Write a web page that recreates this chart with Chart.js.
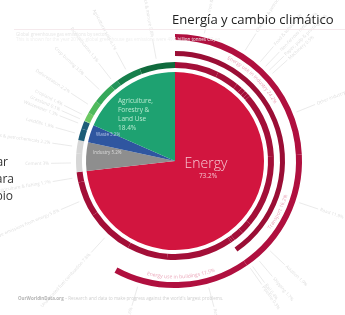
<!DOCTYPE html>
<html>
<head>
<meta charset="utf-8">
<script src="https://cdn.jsdelivr.net/npm/chart.js@4.4.0/dist/chart.umd.min.js"></script>
<style>
  html, body { margin: 0; padding: 0; background: #fff; }
  #wrap { position: relative; width: 345px; height: 315px; overflow: hidden; font-family: 'Open Sans', sans-serif; }
  #chart { position: absolute; left: 0; top: 0; }
  .title { position: absolute; left: 172px; top: 10px; font-size: 13.1px; color: #222; white-space: nowrap; }
  .side { position: absolute; width: 140px; text-align: right; font-size: 12px; color: #333; white-space: nowrap; line-height: 14px; }
  .faint { position: absolute; white-space: nowrap; font-size: 4.5px; color: #d6d6d6; }
  .rule { position: absolute; left: 14px; right: 0; top: 29px; height: 1px; background: #f5eaed; }
</style>
</head>
<body>
<div id="wrap">
  <canvas id="chart" width="345" height="315"></canvas>
  <div class="title">Energía y cambio climático</div>
  <div class="rule"></div>
  <div class="faint" style="left:16px; top:31px; color:#e6e6e6;">Global greenhouse gas emissions by sector</div>
  <div class="faint" style="left:16px; top:36px; color:#efefef;">This is shown for the year 2016 – global greenhouse gas emissions were 49.4 billion tonnes CO₂eq.</div>
  <div class="side" style="left:-132px; top:155px;">Observar</div>
  <div class="side" style="left:-126px; top:172px;">para</div>
  <div class="side" style="left:-127px; top:189px;">cambio</div>
  <div class="faint" style="left:18px; top:295px; color:#b3b3b3;"><b>OurWorldinData.org</b> <span style="color:#d0d0d0">– Research and data to make progress against the world's largest problems.</span></div>
</div>
<script>
// main sectors (inner pie)
const sectors = ['Energy', 'Industry', 'Waste', 'Agriculture, Forestry & Land Use'];
const sectorShares = [73.2, 5.2, 3.2, 18.4];

// sub-sectors (thin ring + leader labels), parent = index into sectors
const subSectors = [
  'Iron & Steel', 'Chemical & petrochemical', 'Food & tobacco', 'Non-ferrous metals',
  'Paper, pulp & printing', 'Machinery', 'Other industry',
  'Road', 'Aviation', 'Shipping', 'Rail', 'Pipeline',
  'Residential buildings', 'Commercial buildings',
  'Unallocated fuel combustion', 'Fugitive emissions from energy', 'Energy in agriculture & fishing',
  'Cement', 'Chemicals & petrochemicals',
  'Landfills', 'Wastewater',
  'Grassland', 'Cropland', 'Deforestation', 'Crop burning', 'Rice cultivation', 'Agricultural soils', 'Livestock & manure'
];
const subShares = [
  7.2, 3.6, 1.0, 0.7, 0.6, 0.5, 10.6,
  11.9, 1.9, 1.7, 0.4, 0.3,
  10.9, 6.6,
  7.8, 5.8, 1.7,
  3.0, 2.2,
  1.9, 1.3,
  0.1, 1.4, 2.2, 3.5, 1.3, 4.1, 5.8
];
const subParent = [
  0, 0, 0, 0, 0, 0, 0,
  0, 0, 0, 0, 0,
  0, 0,
  0, 0, 0,
  1, 1,
  2, 2,
  3, 3, 3, 3, 3, 3, 3
];

// energy groups on the outer arc
const groupNames = ['Energy use in industry', 'Transport', 'Energy use in buildings', ''];
const groupShares = [24.2, 16.2, 17.5, 42.1];
const middleShares = [40.4, 59.6];

const clear = 'rgba(0,0,0,0)';
const sectorColors = ['#d2153f', '#8e8e8e', '#2f56a0', '#1ea271'];
const greens = ['#8fd57a', '#6cc862', '#4fba5c', '#36a85a', '#23945a', '#177f4c', '#0f6a3c'];
let g = 0;
const ringColors = subParent.map(p => {
    if (p === 0) return '#a30f38';
    if (p === 1) return '#d6d6d6';
    if (p === 2) return '#1d5d78';
    return greens[g++];
});

const labelPlugin = {
    id: 'sectorLabels',
    afterDatasetsDraw(chart) {
        const ctx = chart.ctx;
        const pie = chart.getDatasetMeta(6).data;
        const cx = pie[0].x, cy = pie[0].y;
        ctx.save();

        // leader lines + tiny labels for every sub-sector
        const ring = chart.getDatasetMeta(4).data;
        const outerEnd = -Math.PI / 2 + 2 * Math.PI * (groupShares[0] + groupShares[1] + groupShares[2]) / 100;
        ring.forEach((arc, i) => {
            const a = (arc.startAngle + arc.endAngle) / 2;
            const r1 = a < outerEnd ? 131 : 104;
            const r2 = r1 + 20;
            ctx.strokeStyle = '#e4e4e4';
            ctx.lineWidth = 0.8;
            ctx.beginPath();
            ctx.moveTo(cx + r1 * Math.cos(a), cy + r1 * Math.sin(a));
            ctx.lineTo(cx + r2 * Math.cos(a), cy + r2 * Math.sin(a));
            ctx.stroke();
            ctx.save();
            ctx.translate(cx + (r2 + 2) * Math.cos(a), cy + (r2 + 2) * Math.sin(a));
            const left = Math.cos(a) < 0;
            ctx.rotate(left ? a + Math.PI : a);
            ctx.font = '4.5px "Open Sans"';
            ctx.fillStyle = '#dedede';
            ctx.textAlign = left ? 'right' : 'left';
            ctx.textBaseline = 'middle';
            ctx.fillText(subSectors[i] + ' ' + subShares[i] + '%', 0, 0);
            ctx.restore();
        });

        // curved names of the energy groups between the rings
        const groups = chart.getDatasetMeta(0).data;
        ctx.font = '5px "Open Sans"';
        ctx.fillStyle = '#eaa6b9';
        ctx.textAlign = 'center';
        ctx.textBaseline = 'middle';
        groups.forEach((arc, i) => {
            if (!groupNames[i]) return;
            const mid = (arc.startAngle + arc.endAngle) / 2;
            arcText(ctx, groupNames[i] + ' ' + groupShares[i] + '%', cx, cy, 116, mid);
        });

        // labels inside the pie
        ctx.textAlign = 'center';
        ctx.textBaseline = 'alphabetic';
        ctx.fillStyle = '#f6c6d2';
        ctx.font = '300 14px "Open Sans"';
        ctx.fillText(sectors[0], cx + 31, cy + 7);
        ctx.font = '6.5px "Open Sans"';
        ctx.fillText(sectorShares[0] + '%', cx + 33, cy + 17);

        ctx.textAlign = 'left';
        ctx.fillStyle = '#b8ead0';
        ctx.font = '6.5px "Open Sans"';
        ['Agriculture,', 'Forestry &', 'Land Use', sectorShares[3] + '%'].forEach((t, k) => {
            ctx.fillText(t, cx - 57, cy - 58 + k * 9);
        });

        ctx.fillStyle = '#b9c8ea';
        ctx.font = '4.5px "Open Sans"';
        ctx.fillText(sectors[2] + ' ' + sectorShares[2] + '%', cx - 79, cy - 25);
        ctx.fillStyle = '#dddddd';
        ctx.fillText(sectors[1] + ' ' + sectorShares[1] + '%', cx - 82, cy - 7);
        ctx.restore();
    }
};

function arcText(ctx, text, cx, cy, r, mid) {
    const w = ctx.measureText(text).width;
    const bottom = Math.sin(mid) > 0;
    const dir = bottom ? -1 : 1;
    let a = mid - dir * (w / r) / 2;
    for (const ch of text) {
        const cw = ctx.measureText(ch).width;
        const ca = a + dir * (cw / r) / 2;
        ctx.save();
        ctx.translate(cx + r * Math.cos(ca), cy + r * Math.sin(ca));
        ctx.rotate(ca + (bottom ? -Math.PI / 2 : Math.PI / 2));
        ctx.fillText(ch, 0, 0);
        ctx.restore();
        a += dir * cw / r;
    }
}

document.fonts.load('14px "Open Sans"').then(() => {
    new Chart(document.getElementById('chart').getContext('2d'), {
        type: 'pie',
        data: {
            labels: subSectors,
            datasets: [
                { data: groupShares, backgroundColor: ['#b0103f', '#b0103f', '#b0103f', clear], weight: 6 },
                { data: [1], backgroundColor: clear, weight: 11 },
                { data: middleShares, backgroundColor: ['#9a0e35', clear], weight: 5 },
                { data: [1], backgroundColor: clear, weight: 6 },
                { data: subShares, backgroundColor: ringColors, weight: 6 },
                { data: [1], backgroundColor: clear, weight: 4 },
                { data: sectorShares, backgroundColor: sectorColors, weight: 89 }
            ]
        },
        options: {
            responsive: false,
            animation: false,
            radius: 127,
            events: [],
            elements: { arc: { borderWidth: 0 } },
            layout: { padding: { left: 48, right: 43, top: 34, bottom: 27 } },
            plugins: { legend: { display: false }, tooltip: { enabled: false } }
        },
        plugins: [labelPlugin]
    });
});
</script>
</body>
</html>
